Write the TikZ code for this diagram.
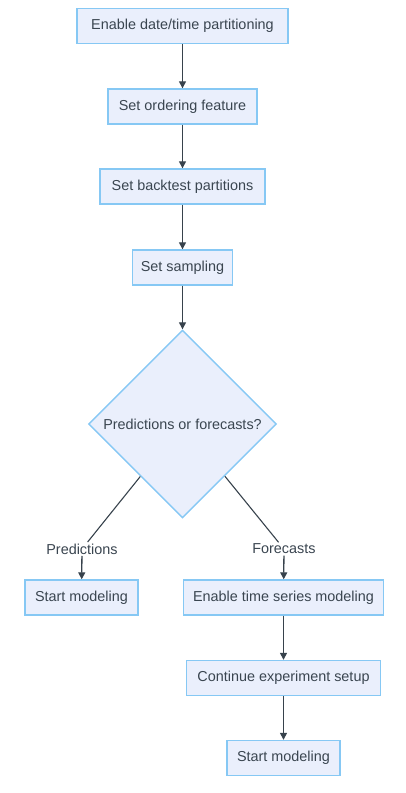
\documentclass[tikz,border=0pt]{standalone}
\usepackage{fontspec}
\setmainfont{Liberation Sans}
\usetikzlibrary{arrows.meta,positioning,shapes.geometric}
\definecolor{nfill}{HTML}{EAEFFC}
\definecolor{nline}{HTML}{86C8F4}
\definecolor{ink}{HTML}{3A4550}
\definecolor{wire}{HTML}{37424C}
\tikzset{
  box/.style={draw=nline,line width=1.4pt,fill=nfill,text=ink,align=center,inner sep=0pt,
    minimum height=35pt,font=\fontsize{14.4}{17}\selectfont},
  dec/.style={box,shape=diamond,aspect=1,minimum width=188pt,minimum height=188pt},
  lbl/.style={fill=white,text=ink,inner sep=1.5pt,font=\fontsize{14.4}{17}\selectfont},
  ar/.style={-{Triangle[length=7pt,width=7pt]},line width=1.3pt,draw=wire},
  ln/.style={line width=1.1pt,draw=wire},
}
\begin{document}
\begin{tikzpicture}[x=1pt,y=-1pt]
\useasboundingbox (0,0) rectangle (406,793);
% main chain
\node[box,minimum width=211pt] (part) at (182.5,26) {Enable date/time partitioning};
\node[box,minimum width=149pt] (order) at (182.5,106.5) {Set ordering feature};
\node[box,minimum width=165pt] (back) at (182.5,186.5) {Set backtest partitions};
\node[box,minimum width=100pt] (samp) at (182.5,267.5) {Set sampling};
\node[dec] (pf) at (182.5,424) {Predictions or forecasts?};
% branch labels
\node[lbl] (lpred) at (82,549) {Predictions};
\node[lbl] (lfore) at (284,549) {Forecasts};
% leaves
\node[box,minimum width=113pt] (smA) at (81.5,597.5) {Start modeling};
\node[box,minimum width=200pt] (ts) at (283.5,597.5) {Enable time series modeling};
\node[box,minimum width=194pt] (cont) at (283.5,678) {Continue experiment setup};
\node[box,minimum width=113pt] (smB) at (283.5,758) {Start modeling};

\draw[ar] (part) -- (order);
\draw[ar] (order) -- (back);
\draw[ar] (back) -- (samp);
\draw[ar] (samp) -- (pf);
\draw[ln] (pf) -- (lpred);
\draw[ln] (pf) -- (lfore);
\draw[ar] (lpred) -- (smA);
\draw[ar] (lfore) -- (ts);
\draw[ar] (ts) -- (cont);
\draw[ar] (cont) -- (smB);
\end{tikzpicture}
\end{document}
